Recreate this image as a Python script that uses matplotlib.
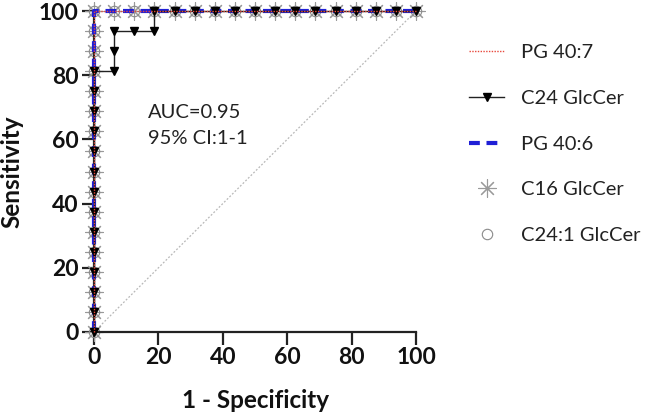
import matplotlib
matplotlib.use("Agg")
import matplotlib.pyplot as plt

plt.rcParams['font.family'] = ['Lato', 'DejaVu Sans']

# Perfect classifier ROC (shared by PG 40:7, PG 40:6, C16 GlcCer, C24:1 GlcCer)
fpr_perfect = [0, 0, 0, 0, 0, 0, 0, 0, 0, 0, 0, 0, 0, 0, 0, 0, 0,
               6.25, 12.5, 18.75, 25, 31.25, 37.5, 43.75, 50, 56.25, 62.5,
               68.75, 75, 81.25, 87.5, 93.75, 100]
tpr_perfect = [0, 6.25, 12.5, 18.75, 25, 31.25, 37.5, 43.75, 50, 56.25, 62.5,
               68.75, 75, 81.25, 87.5, 93.75, 100,
               100, 100, 100, 100, 100, 100, 100, 100, 100, 100,
               100, 100, 100, 100, 100, 100]

# C24 GlcCer ROC
fpr_c24 = [0, 0, 0, 0, 0, 0, 0, 0, 0, 0, 0, 0, 0, 0,
           6.25, 6.25, 6.25, 12.5, 18.75, 18.75, 25, 31.25, 37.5, 43.75,
           50, 56.25, 62.5, 68.75, 75, 81.25, 87.5, 93.75, 100]
tpr_c24 = [0, 6.25, 12.5, 18.75, 25, 31.25, 37.5, 43.75, 50, 56.25, 62.5,
           68.75, 75, 81.25,
           81.25, 87.5, 93.75, 93.75, 93.75, 100, 100, 100, 100, 100,
           100, 100, 100, 100, 100, 100, 100, 100, 100]

diag = [0, 100]
ticks = [0, 20, 40, 60, 80, 100]
series_labels = ['PG 40:7', 'C24 GlcCer', 'PG 40:6', 'C16 GlcCer', 'C24:1 GlcCer']
annot = ['AUC=0.95', '95% CI:1-1']

fig = plt.figure(figsize=(6.47, 4.18), dpi=100)
ax = fig.add_axes([94/647, 1-332/418, 322/647, 321/418])

ax.plot(diag, diag, color='#b8b8b8', lw=0.9, ls=(0, (1.5, 1.5)), zorder=1)

star = (8, 2, 0)
h_c16, = ax.plot(fpr_perfect, tpr_perfect, ls='none', marker=star, ms=13,
                 mec='#9a9a9a', mew=0.8, color='#9a9a9a', zorder=2, clip_on=False)
h_c241, = ax.plot(fpr_perfect, tpr_perfect, ls='none', marker='o', ms=7.5,
                  mfc='none', mec='#8a8a8a', mew=0.8, zorder=2.5, clip_on=False)
h_pg406, = ax.plot(fpr_perfect, tpr_perfect, color='#1f1fd6', lw=3,
                   ls=(0, (2.6, 1.6)), zorder=3, clip_on=False)
h_c24, = ax.plot(fpr_c24, tpr_c24, color='#222222', lw=1.0, marker='v', ms=6,
                 mfc='black', mec='black', zorder=4, clip_on=False)
h_pg407, = ax.plot(fpr_perfect, tpr_perfect, color='#e8483c', lw=1.0,
                   ls=(0, (1, 1)), zorder=5, clip_on=False)

ax.set_xlim(0, 100)
ax.set_ylim(0, 100)
ax.set_xticks(ticks)
ax.set_yticks(ticks)
for s in ['top', 'right']:
    ax.spines[s].set_visible(False)
for s in ['left', 'bottom']:
    ax.spines[s].set_linewidth(1.6)
    ax.spines[s].set_color('#222222')
ax.tick_params(axis='both', length=9, width=1.6, color='#222222',
               labelsize=16.5, pad=2, direction='out')
for lab in ax.get_xticklabels() + ax.get_yticklabels():
    lab.set_fontweight('bold')
    lab.set_color('#111111')

ax.set_xlabel('1 - Specificity', fontsize=17.5, fontweight='bold', labelpad=15, color='#111111')
ax.set_ylabel('Sensitivity', fontsize=17.5, fontweight='bold', labelpad=11, color='#111111')

ax.text(16.7, 68.3, annot[0], fontsize=14.5, color='#222222', va='center', ha='left')
ax.text(16.7, 60.2, annot[1], fontsize=14.5, color='#222222', va='center', ha='left')

handles = [h_pg407, h_c24, h_pg406, h_c16, h_c241]
leg = fig.legend(handles, series_labels, loc='upper left',
                 bbox_to_anchor=(455/647, 1-30/418), frameon=False,
                 fontsize=14.5, handlelength=1.75, handletextpad=0.85,
                 labelspacing=1.42, borderpad=0.2)
for t in leg.get_texts():
    t.set_color('#222222')

fig.savefig('out.png', dpi=100)
